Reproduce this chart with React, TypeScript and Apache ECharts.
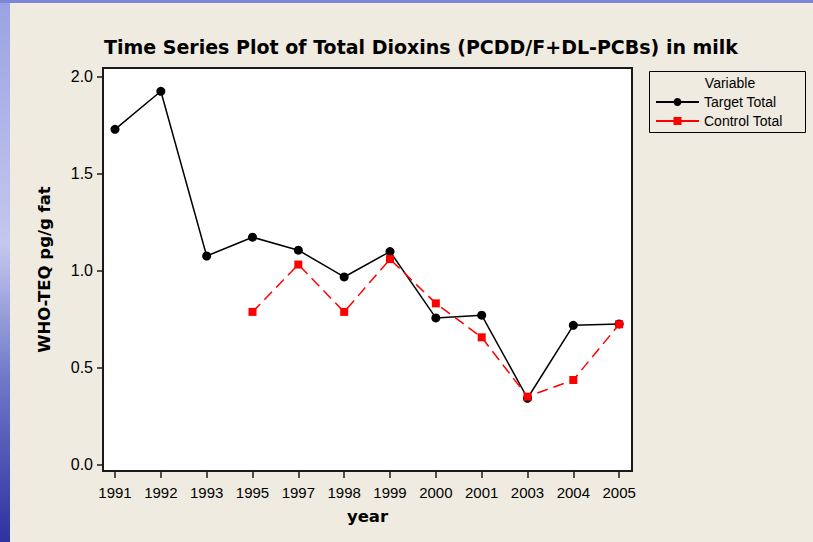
import React, { useEffect, useRef } from "react";
import * as echarts from "echarts";

const years = ["1991", "1992", "1993", "1995", "1997", "1998", "1999", "2000", "2001", "2003", "2004", "2005"];
const targetTotal = [1.73, 1.926, 1.077, 1.174, 1.107, 0.969, 1.1, 0.758, 0.772, 0.344, 0.72, 0.727];
const controlTotal: (number | null)[] = [null, null, null, 0.789, 1.033, 0.789, 1.061, 0.833, 0.658, 0.352, 0.438, 0.725];
const yTicks = [0, 0.5, 1.0, 1.5, 2.0];

const BG = "#EFEBE1";

export default function App() {
  const ref = useRef<HTMLDivElement>(null);
  useEffect(() => {
    if (!ref.current) return;
    const chart = echarts.init(ref.current, null, { renderer: "svg" });
    const idx = years.map((_, i) => i);
    const tData = targetTotal.map((v, i) => [i, v]);
    const cData = controlTotal
      .map((v, i) => (v == null ? null : [i, v]))
      .filter((d) => d !== null);
    chart.setOption({
      animation: false,
      backgroundColor: BG,
      title: {
        text: "Time Series Plot of Total Dioxins (PCDD/F+DL-PCBs) in milk",
        left: 416,
        textAlign: "center",
        top: 32,
        textStyle: { fontFamily: "DejaVu Sans", fontWeight: "bold", fontSize: 19, color: "#000" },
      },
      legend: {
        data: ["Target Total", "Control Total"],
        orient: "vertical",
        left: 655,
        top: 95,
        padding: 0,
        itemWidth: 43,
        itemHeight: 10,
        itemGap: 5,
        lineStyle: { type: "solid" },
        textStyle: { fontFamily: "Liberation Sans", fontSize: 14, color: "#000" },
      },
      grid: {
        left: 103,
        right: 181,
        top: 68,
        bottom: 71,
        show: true,
        backgroundColor: "#fff",
        borderColor: "#1a1a1a",
        borderWidth: 2,
      },
      xAxis: {
        type: "value",
        min: -0.262,
        max: 11.28,
        name: "year",
        nameLocation: "middle",
        nameGap: 37,
        nameTextStyle: { fontFamily: "DejaVu Sans", fontWeight: "bold", fontSize: 16.5, color: "#000" },
        splitLine: { show: false },
        axisLine: { onZero: false, lineStyle: { color: "#1a1a1a", width: 2 } },
        axisTick: { customValues: idx, length: 7, lineStyle: { color: "#1a1a1a", width: 1.5 } },
        axisLabel: {
          customValues: idx,
          margin: 14,
          formatter: (v: number) => years[Math.round(v)] ?? "",
          fontFamily: "Liberation Sans",
          fontSize: 15,
          color: "#000",
        },
      },
      yAxis: {
        type: "value",
        min: -0.031,
        max: 2.046,
        name: "WHO-TEQ pg/g fat",
        nameLocation: "middle",
        nameGap: 50,
        nameTextStyle: { fontFamily: "DejaVu Sans", fontWeight: "bold", fontSize: 16.5, color: "#000" },
        splitLine: { show: false },
        axisLine: { show: true, onZero: false, lineStyle: { color: "#1a1a1a", width: 2 } },
        axisTick: { show: true, customValues: yTicks, length: 6, lineStyle: { color: "#1a1a1a", width: 1.5 } },
        axisLabel: {
          customValues: yTicks,
          margin: 10,
          formatter: (v: number) => v.toFixed(1),
          fontFamily: "Liberation Sans",
          fontSize: 16,
          color: "#000",
        },
      },
      graphic: [
        {
          type: "rect",
          shape: { x: 0, y: 0, width: 10, height: 542 },
          style: {
            fill: new echarts.graphic.LinearGradient(0, 0, 0, 1, [
              { offset: 0, color: "#9aa2e2" },
              { offset: 0.45, color: "#c4c8ee" },
              { offset: 0.7, color: "#6f78c8" },
              { offset: 1, color: "#2e32a0" },
            ]),
          },
          z: 10,
        },
        {
          type: "rect",
          shape: { x: 0, y: 0, width: 813, height: 3 },
          style: { fill: "#7d86d4" },
          z: 10,
        },
        {
          type: "rect",
          shape: { x: 649.5, y: 71.5, width: 156, height: 61 },
          style: { fill: "none", stroke: "#000", lineWidth: 1 },
          z: 10,
        },
        {
          type: "text",
          x: 730,
          y: 83,
          style: {
            text: "Variable",
            fontFamily: "Liberation Sans",
            fontSize: 14,
            fill: "#000",
            align: "center",
            verticalAlign: "middle",
          },
          z: 10,
        },
      ],
      series: [
        {
          name: "Target Total",
          type: "line",
          data: tData,
          symbol: "circle",
          symbolSize: 9,
          itemStyle: { color: "#000" },
          lineStyle: { color: "#000", width: 1.5 },
        },
        {
          name: "Control Total",
          type: "line",
          data: cData,
          symbol: "rect",
          symbolSize: 8,
          itemStyle: { color: "#ff0000" },
          lineStyle: { color: "#ff0000", width: 1.5, type: [11, 6] },
        },
      ],
    });
    return () => chart.dispose();
  }, []);
  return (
    <div
      ref={ref}
      style={{ position: "fixed", left: 0, top: 0, width: 813, height: 542 }}
    />
  );
}
